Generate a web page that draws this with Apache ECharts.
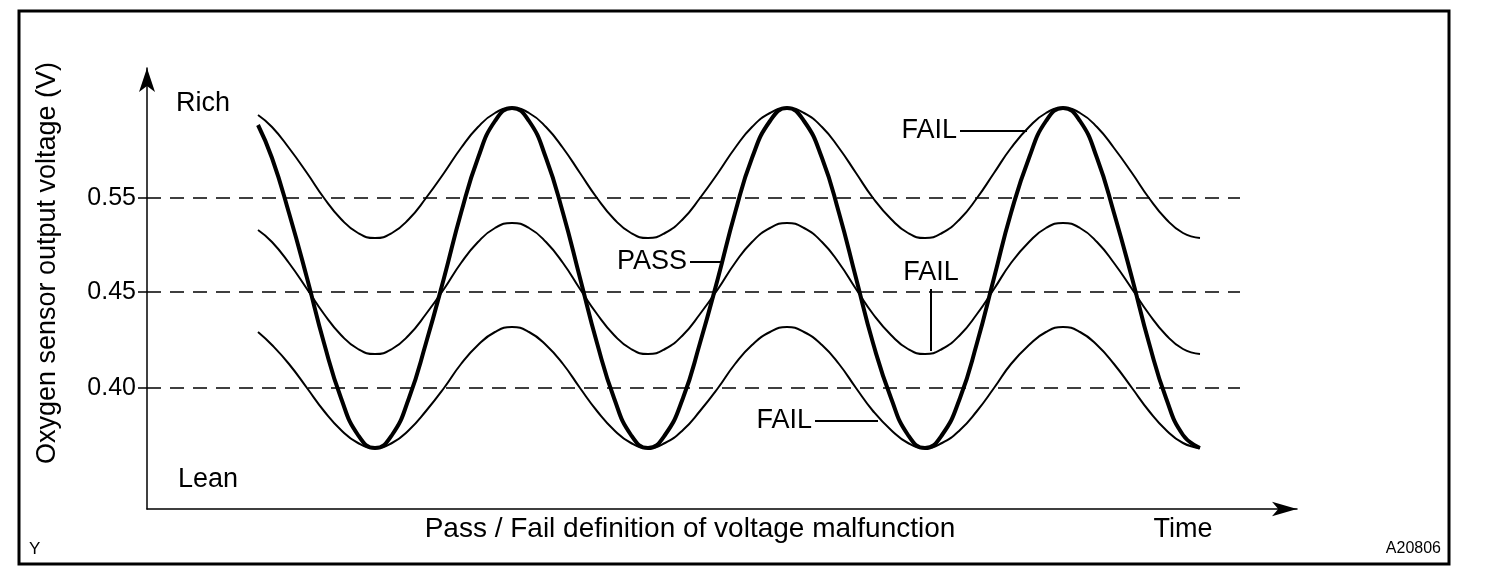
<!DOCTYPE html>
<html>
<head>
<meta charset="utf-8">
<script src="https://cdn.jsdelivr.net/npm/echarts@6/dist/echarts.min.js"></script>
<style>
  html, body { margin: 0; padding: 0; background: #fff; }
  #chart { width: 1504px; height: 582px; }
</style>
</head>
<body>
<div id="chart"></div>
<script>
// Schematic levels: x = time units, y = sensor level units
const time = [111, 125, 142, 160, 177, 194, 211, 228, 245, 262, 279, 297, 314, 331, 348, 365,
  382, 399, 416, 433, 450, 467, 484, 501, 518, 536, 553, 571, 588, 605, 623, 640,
  657, 675, 692, 709, 726, 744, 761, 778, 795, 813, 830, 847, 864, 882, 899, 916,
  933, 950, 967, 985, 1002, 1019, 1036, 1053];

// top thin curve (FAIL, stays rich)
const failRich = [394, 382, 361, 336, 311, 290, 276, 271, 276, 290, 311, 336, 361, 382, 396, 401,
  396, 382, 361, 336, 311, 290, 276, 271, 276, 290, 311, 336, 361, 382, 396, 401,
  396, 382, 361, 336, 311, 290, 276, 271, 276, 290, 311, 336, 361, 382, 396, 401,
  396, 382, 361, 336, 311, 290, 276, 271];
// middle thin curve (FAIL, small swing)
const failMid = [279, 267, 246, 220, 195, 174, 160, 155, 160, 174, 195, 220, 246, 267, 281, 286,
  281, 267, 246, 220, 195, 174, 160, 155, 160, 174, 195, 220, 246, 267, 281, 286,
  281, 267, 246, 220, 195, 174, 160, 155, 160, 174, 195, 220, 246, 267, 281, 286,
  281, 267, 246, 220, 195, 174, 160, 155];
// bottom thin curve (FAIL, stays lean)
const failLean = [177, 164, 145, 121, 98, 79, 66, 61, 66, 79, 98, 121, 145, 164, 177, 182,
  177, 164, 145, 121, 98, 79, 66, 61, 66, 79, 98, 121, 145, 164, 177, 182,
  177, 164, 145, 121, 98, 79, 66, 61, 66, 79, 98, 121, 145, 164, 177, 182,
  177, 164, 145, 121, 98, 79, 66, 61];
// thick curve (PASS, full swing)
const pass = [384, 351, 296, 231, 166, 111, 74, 61, 74, 111, 166, 231, 296, 351, 388, 401,
  388, 351, 296, 231, 166, 111, 74, 61, 74, 111, 166, 231, 296, 351, 388, 401,
  388, 351, 296, 231, 166, 111, 74, 61, 74, 111, 166, 231, 296, 351, 388, 401,
  388, 351, 296, 231, 166, 111, 74, 61];

// voltage thresholds: level on the axis and its label
const thresholdLevels = [121, 217, 311];
const thresholdLabels = ['0.40', '0.45', '0.55'];
const thresholdEnd = 1093;

// callouts: label, start point, end point
const callouts = [
  { label: 'FAIL', from: [813, 378], to: [880, 378] },
  { label: 'PASS', from: [543, 247], to: [576, 247] },
  { label: 'FAIL', from: [784, 220], to: [784, 158] },
  { label: 'FAIL', from: [668, 88], to: [731, 88] }
];

const FONT = '"Liberation Sans", Arial, sans-serif';
const zip = arr => time.map((t, i) => [t, arr[i]]);

const curve = (name, data, width) => ({
  name,
  type: 'line',
  data: zip(data),
  smooth: true,
  showSymbol: false,
  silent: true,
  lineStyle: { color: '#000', width },
  z: 3
});

const chart = echarts.init(document.getElementById('chart'));

chart.setOption({
  animation: false,
  backgroundColor: '#fff',
  grid: { left: 147, top: 68, width: 1150, height: 441 },
  xAxis: {
    type: 'value',
    min: 0,
    max: 1150,
    axisLine: { show: true, symbol: ['none', 'arrow'], symbolSize: [11, 25], lineStyle: { color: '#000', width: 1.5 } },
    axisTick: { show: false },
    axisLabel: { show: false },
    splitLine: { show: false }
  },
  yAxis: {
    type: 'value',
    min: 0,
    max: 441,
    axisLine: { show: true, symbol: ['none', 'arrow'], symbolSize: [12, 24], lineStyle: { color: '#000', width: 1.5 } },
    axisTick: { show: true, length: 9, customValues: thresholdLevels, lineStyle: { color: '#000', width: 1.5 } },
    axisLabel: {
      show: true,
      customValues: thresholdLevels,
      margin: 11,
      color: '#000',
      fontFamily: FONT,
      fontSize: 25,
      formatter: v => thresholdLabels[thresholdLevels.indexOf(v)] || ''
    },
    splitLine: { show: false }
  },
  graphic: [
    { type: 'rect', shape: { x: 19, y: 11, width: 1430, height: 553 }, style: { fill: 'none', stroke: '#000', lineWidth: 3 } },
    { type: 'text', x: 48, y: 263, rotation: Math.PI / 2, style: { text: 'Oxygen sensor output voltage (V)', font: '27px ' + FONT, fill: '#000', textAlign: 'center', textVerticalAlign: 'middle' } },
    { type: 'text', x: 203, y: 104, style: { text: 'Rich', font: '27px ' + FONT, fill: '#000', textAlign: 'center', textVerticalAlign: 'middle' } },
    { type: 'text', x: 208, y: 480, style: { text: 'Lean', font: '27px ' + FONT, fill: '#000', textAlign: 'center', textVerticalAlign: 'middle' } },
    { type: 'text', x: 690, y: 529, style: { text: 'Pass / Fail definition of voltage malfunction', font: '28px ' + FONT, fill: '#000', textAlign: 'center', textVerticalAlign: 'middle' } },
    { type: 'text', x: 1183, y: 530, style: { text: 'Time', font: '27px ' + FONT, fill: '#000', textAlign: 'center', textVerticalAlign: 'middle' } },
    { type: 'text', x: 29, y: 549, style: { text: 'Y', font: '17px ' + FONT, fill: '#000', textAlign: 'left', textVerticalAlign: 'middle' } },
    { type: 'text', x: 1441, y: 549, style: { text: 'A20806', font: '16px ' + FONT, fill: '#000', textAlign: 'right', textVerticalAlign: 'middle' } }
  ],
  series: [
    curve('FAIL rich', failRich, 2),
    curve('FAIL mid', failMid, 2),
    curve('FAIL lean', failLean, 2),
    curve('PASS', pass, 4),
    {
      name: 'annotations',
      type: 'line',
      data: [],
      silent: true,
      markLine: {
        silent: true,
        symbol: ['none', 'none'],
        animation: false,
        data: [
          ...thresholdLevels.map(l => [
            { coord: [0, l], lineStyle: { type: [14, 9], color: '#000', width: 1.5 }, label: { show: false } },
            { coord: [thresholdEnd, l] }
          ]),
          ...callouts.map(c => [
            {
              coord: c.from,
              lineStyle: { type: 'solid', color: '#000', width: 2 },
              label: { show: true, position: 'start', formatter: c.label, color: '#000', fontFamily: FONT, fontSize: 27, distance: 3 }
            },
            { coord: c.to }
          ])
        ]
      },
      z: 2
    }
  ]
});
</script>
</body>
</html>
